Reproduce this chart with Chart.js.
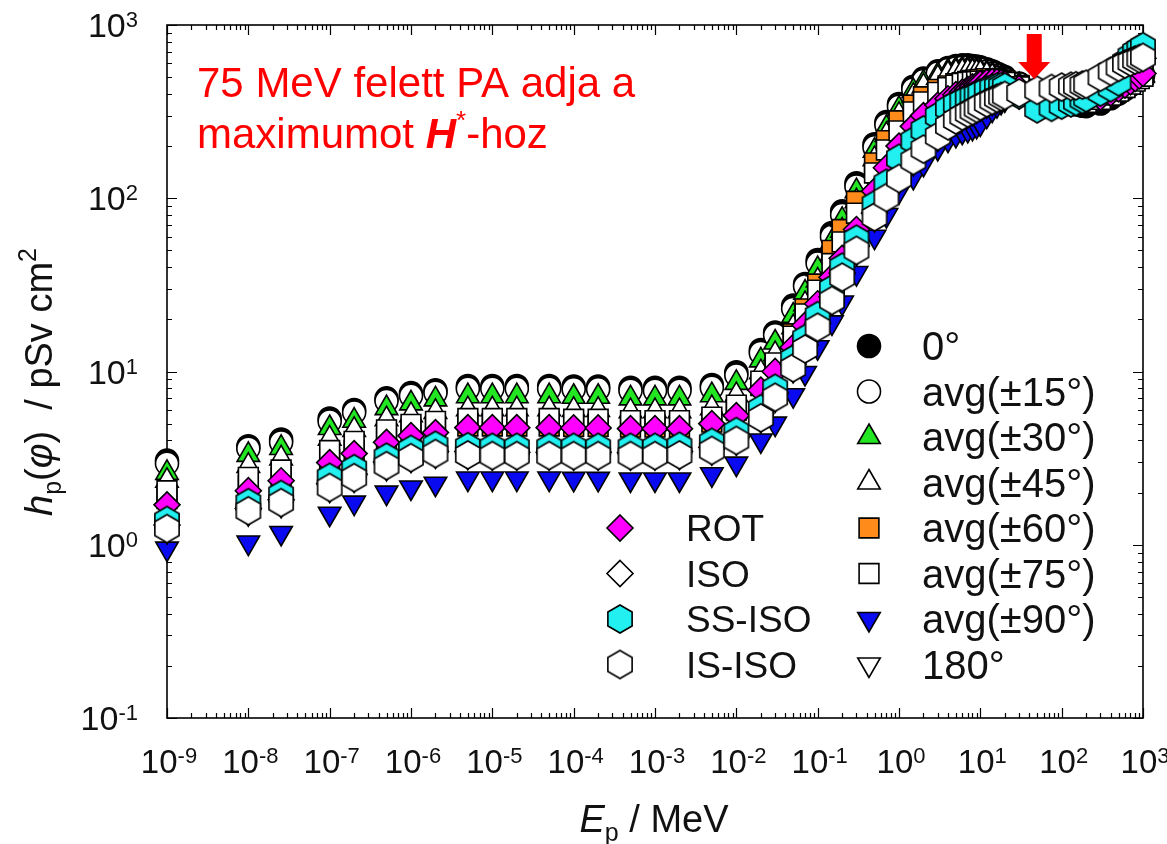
<!DOCTYPE html>
<html>
<head>
<meta charset="utf-8">
<title>hp(φ) neutron conversion coefficients</title>
<script src="https://cdn.jsdelivr.net/npm/chart.js@4.4.1/dist/chart.umd.min.js"></script>
<style>
  html, body { margin: 0; padding: 0; background: #fff; }
  #wrap { width: 1167px; height: 844px; position: relative; }
</style>
</head>
<body>
<div id="wrap"><canvas id="chart"></canvas></div>
<script>
// neutron energies, MeV
const energies = [
  1e-9, 1e-8, 2.53e-8, 1e-7, 2e-7, 5e-7, 1e-6, 2e-6, 5e-6, 1e-5, 2e-5, 5e-5, 1e-4, 2e-4, 5e-4, 1e-3, 2e-3, 5e-3,
  0.01, 0.02, 0.03, 0.05, 0.07, 0.1, 0.15, 0.2, 0.3, 0.5, 0.7,
  1, 1.5, 2, 3, 4, 5, 6, 7, 8, 9, 10,
  12, 14, 16, 18, 20,
  30, 50, 75, 100, 130, 150, 180, 200, 300, 400, 500, 600, 700, 800, 900, 1000
];

// hp(phi) in pSv cm2
const h0 = [
  3.06, 3.7, 4.05, 5.35, 6.0, 7.0, 7.5, 7.8, 8.25, 8.25, 8.25, 8.25, 8.2, 8.2, 8.05, 8.05, 8.05, 8.35,
  9.9, 13.3, 16.8, 24, 32, 44, 63, 84, 122, 205, 275,
  350, 440, 490, 540, 565, 580, 585, 585, 580, 575, 570,
  555, 540, 525, 510, 500,
  460, 420, 390, 370, 355, 348, 342, 340, 352, 378, 402, 425, 448, 470, 490, 510
];
const h15 = [
  2.94, 3.59, 3.9, 5.15, 5.8, 6.75, 7.25, 7.55, 7.95, 7.95, 7.95, 7.95, 7.9, 7.9, 7.75, 7.75, 7.75, 8.05,
  9.5, 12.8, 16.2, 23, 31, 42, 60, 80, 117, 197, 265,
  338, 425, 475, 525, 550, 562, 566, 566, 562, 557, 552,
  538, 524, 510, 497, 487,
  455, 418, 392, 376, 365, 360, 358, 358, 372, 395, 418, 440, 462, 482, 500, 518
];
const h30 = [
  2.6, 3.3, 3.62, 4.72, 5.2, 6.15, 6.55, 6.9, 7.2, 7.2, 7.2, 7.2, 7.15, 7.15, 7.0, 7.0, 7.0, 7.3,
  8.6, 11.6, 14.7, 21, 28.5, 39, 56, 75, 110, 188, 255,
  328, 415, 465, 515, 540, 552, 556, 556, 552, 547, 542,
  530, 516, 502, 490, 480,
  450, 415, 392, 378, 368, 364, 362, 362, 376, 398, 420, 442, 463, 482, 500, 516
];
const h45 = [
  2.34, 2.85, 3.15, 4.1, 4.6, 5.3, 5.6, 5.85, 6.05, 6.05, 6.05, 6.05, 6.0, 6.0, 5.9, 5.9, 5.9, 6.15,
  7.3, 9.9, 12.6, 18, 24.5, 33.5, 48, 65, 96, 168, 232,
  303, 390, 442, 495, 522, 535, 540, 540, 537, 533, 528,
  517, 505, 492, 480, 470,
  442, 410, 388, 375, 366, 362, 360, 360, 374, 395, 416, 437, 457, 475, 492, 508
];
const h60 = [
  1.85, 2.2, 2.45, 3.1, 3.5, 4.1, 4.45, 4.6, 4.85, 4.85, 4.85, 4.85, 4.82, 4.82, 4.78, 4.78, 4.78, 5.1,
  6.0, 8.3, 11, 16.5, 23, 32, 50, 66, 96, 160, 215,
  280, 345, 385, 425, 445, 458, 465, 472, 478, 482, 485,
  490, 490, 487, 482, 476,
  448, 415, 392, 380, 372, 368, 366, 366, 382, 404, 426, 448, 468, 487, 504, 520
];
const h75 = [
  2.05, 2.45, 2.7, 3.5, 3.95, 4.6, 4.95, 5.15, 5.35, 5.35, 5.35, 5.35, 5.3, 5.3, 5.2, 5.2, 5.2, 5.45,
  6.4, 8.8, 11.2, 16, 21.5, 29.5, 42, 56, 82, 140, 190,
  245, 315, 360, 408, 435, 450, 460, 466, 470, 472, 474,
  476, 476, 474, 470, 466,
  440, 408, 386, 372, 364, 360, 358, 358, 372, 394, 415, 436, 456, 474, 490, 506
];
const h90 = [
  0.95, 1.03, 1.17, 1.51, 1.75, 2.0, 2.14, 2.25, 2.41, 2.41, 2.41, 2.41, 2.4, 2.4, 2.38, 2.38, 2.38, 2.55,
  2.94, 4.0, 5.0, 7.3, 9.8, 13.8, 19.2, 25, 37, 60, 80,
  110, 133, 158, 195, 218, 232, 242, 248, 255, 262, 270,
  300, 325, 345, 360, 372,
  390, 405, 415, 425, 432, 436, 440, 445, 480, 515, 545, 570, 590, 605, 618, 628
];
const h180 = [
  1.2, 1.52, 1.7, 2.08, 2.38, 2.78, 3.1, 3.28, 3.22, 3.2, 3.2, 3.2, 3.2, 3.2, 3.2, 3.2, 3.22, 3.42,
  3.9, 5.25, 6.9, 10.2, 13.1, 17.5, 25, 34, 48.5, 76, 98,
  126, 160, 187, 222, 255, 276, 290, 302, 312, 322, 331,
  345, 357, 367, 375, 381,
  393, 408, 418, 425, 430, 433, 437, 442, 485, 524, 553, 577, 594, 609, 621, 631
];
const hROT = [
  1.7, 2.05, 2.34, 2.98, 3.36, 3.9, 4.26, 4.44, 4.74, 4.74, 4.74, 4.74, 4.72, 4.72, 4.68, 4.68, 4.68, 5.0,
  5.56, 7.8, 10, 13.8, 18.5, 24.6, 35, 45, 66, 110, 150,
  200, 260, 300, 345, 375, 396, 410, 425, 440, 450, 458,
  468, 472, 470, 465, 458,
  430, 400, 382, 372, 366, 364, 364, 365, 382, 405, 428, 450, 470, 490, 508, 525
];
const hISO = [
  1.3, 1.62, 1.82, 2.25, 2.55, 3.0, 3.3, 3.45, 3.45, 3.42, 3.42, 3.42, 3.42, 3.42, 3.4, 3.4, 3.45, 3.65,
  4.2, 5.7, 7.5, 11, 14.2, 19, 27, 37, 53, 82, 107,
  138, 172, 200, 238, 270, 290, 305, 316, 326, 335, 345,
  360, 372, 382, 390, 396,
  405, 412, 420, 428, 435, 440, 445, 450, 490, 530, 560, 585, 605, 620, 632, 642
];
const hSSISO = [
  1.38, 1.75, 1.95, 2.45, 2.75, 3.2, 3.55, 3.75, 3.68, 3.65, 3.65, 3.65, 3.65, 3.65, 3.65, 3.65, 3.7, 3.9,
  4.5, 6.1, 8.0, 11.8, 15.5, 21, 30, 40, 58, 92, 122,
  170, 215, 248, 298, 330, 350, 365, 378, 388, 395, 405,
  422, 432, 438, 440, 438,
  395, 328, 335, 345, 355, 362, 372, 380, 410, 435, 470, 610, 660, 700, 725, 750
];
const hISISO = [
  1.24, 1.57, 1.75, 2.14, 2.44, 2.86, 3.18, 3.36, 3.3, 3.27, 3.27, 3.27, 3.27, 3.27, 3.27, 3.27, 3.3, 3.5,
  4.0, 5.4, 7.1, 10.5, 13.5, 18, 25.7, 35, 50, 78, 101,
  130, 165, 192, 228, 262, 283, 298, 310, 320, 330, 340,
  355, 367, 378, 386, 392,
  405, 420, 430, 438, 443, 446, 450, 455, 500, 540, 570, 595, 612, 628, 640, 650
];

const seriesLabels = ['0°', 'avg(±15°)', 'avg(±30°)', 'avg(±45°)', 'avg(±60°)', 'avg(±75°)',
  'avg(±90°)', '180°', 'ROT', 'ISO', 'SS-ISO', 'IS-ISO'];
const seriesValues = [h0, h15, h30, h45, h60, h75, h90, h180, hROT, hISO, hSSISO, hISISO];

const xTickExponents = [-9, -8, -7, -6, -5, -4, -3, -2, -1, 0, 1, 2, 3];
const yTickExponents = [-1, 0, 1, 2, 3];

// legend columns (series indices)
const legendRight = [0, 1, 2, 3, 4, 5, 6, 7];
const legendLeft = [8, 9, 10, 11];

const arrowEnergy = 46;

const F = '"Liberation Sans", Arial, Helvetica, sans-serif';
const LW = 1.6;

function makeHexagon(fill, r) {
  const s = Math.ceil(r * 2 + 4);
  const c = document.createElement('canvas');
  c.width = s; c.height = s;
  const g = c.getContext('2d');
  g.beginPath();
  for (let k = 0; k < 6; k++) {
    const a = -Math.PI / 2 + k * Math.PI / 3;
    const px = s / 2 + r * Math.cos(a), py = s / 2 + r * Math.sin(a);
    if (k) g.lineTo(px, py); else g.moveTo(px, py);
  }
  g.closePath();
  g.fillStyle = fill;
  g.fill();
  g.lineWidth = LW;
  g.strokeStyle = '#000';
  g.stroke();
  return c;
}

const styles = [
  { style: 'circle', fill: '#000000', r: 11.5 },
  { style: 'circle', fill: '#ffffff', r: 11.5 },
  { style: 'triangle', fill: '#22e622', r: 13 },
  { style: 'triangle', fill: '#ffffff', r: 13 },
  { style: 'rect', fill: '#ff8c1a', r: 14 },
  { style: 'rect', fill: '#ffffff', r: 14 },
  { style: 'triangle', rot: 180, fill: '#0a0af0', r: 13 },
  { style: 'triangle', rot: 180, fill: '#ffffff', r: 13 },
  { style: 'rectRot', fill: '#ff00ff', r: 13 },
  { style: 'rectRot', fill: '#ffffff', r: 13 },
  { style: 'hex', fill: '#22f0f0', r: 14 },
  { style: 'hex', fill: '#ffffff', r: 14 }
];
styles.forEach(st => { if (st.style === 'hex') st.img = makeHexagon(st.fill, st.r); });

const datasets = seriesValues.map((vals, i) => {
  const st = styles[i];
  return {
    label: seriesLabels[i],
    data: energies.map((e, j) => ({ x: e, y: vals[j] })),
    pointStyle: st.img || st.style,
    pointRadius: st.r,
    pointHoverRadius: st.r,
    pointRotation: st.rot || 0,
    pointBackgroundColor: st.fill,
    pointBorderColor: '#000',
    pointBorderWidth: LW,
    pointHoverBorderWidth: LW,
    showLine: false,
    clip: false,
    // later series in the list sit on top
    order: seriesValues.length - 1 - i
  };
});

function drawMarker(ctx, st, x, y) {
  if (st.img) {
    ctx.drawImage(st.img, x - st.img.width / 2, y - st.img.height / 2);
    return;
  }
  const r = st.r;
  ctx.save();
  ctx.fillStyle = st.fill;
  ctx.strokeStyle = '#000';
  ctx.lineWidth = LW;
  ctx.beginPath();
  if (st.style === 'circle') {
    ctx.arc(x, y, r, 0, Math.PI * 2);
  } else if (st.style === 'triangle') {
    let a = (st.rot || 0) * Math.PI / 180;
    for (let k = 0; k < 3; k++) {
      const px = x + Math.sin(a) * r, py = y - Math.cos(a) * r;
      if (k) ctx.lineTo(px, py); else ctx.moveTo(px, py);
      a += 2 * Math.PI / 3;
    }
  } else if (st.style === 'rect') {
    const s = r * Math.SQRT1_2;
    ctx.rect(x - s, y - s, 2 * s, 2 * s);
  } else if (st.style === 'rectRot') {
    ctx.moveTo(x, y - r); ctx.lineTo(x + r, y); ctx.lineTo(x, y + r); ctx.lineTo(x - r, y);
  }
  ctx.closePath();
  ctx.fill();
  ctx.stroke();
  ctx.restore();
}

function richWidth(ctx, parts) {
  let w = 0;
  for (const p of parts) { ctx.font = p.font; w += ctx.measureText(p.t).width; }
  return w;
}

function drawRich(ctx, parts, x, y, align) {
  const w = richWidth(ctx, parts);
  let cx = align === 'center' ? x - w / 2 : align === 'right' ? x - w : x;
  ctx.textAlign = 'left';
  ctx.textBaseline = 'alphabetic';
  for (const p of parts) {
    ctx.font = p.font;
    ctx.fillText(p.t, cx, y + (p.dy || 0));
    cx += ctx.measureText(p.t).width;
  }
}

function powLabel(exp, base, small) {
  return [{ t: '10', font: base + 'px ' + F }, { t: String(exp), font: small + 'px ' + F, dy: -10 }];
}

const framePlugin = {
  id: 'frame',
  beforeDatasetsDraw(chart) {
    const { ctx, chartArea: a, scales } = chart;
    const xs = scales.x, ys = scales.y;
    ctx.save();
    ctx.strokeStyle = '#000';
    ctx.lineWidth = 1.2;
    ctx.beginPath();
    const xLast = xTickExponents[xTickExponents.length - 1];
    for (const d of xTickExponents) {
      for (let k = 1; k <= 9; k++) {
        if (d === xLast && k > 1) break;
        const px = Math.round(xs.getPixelForValue(k * Math.pow(10, d))) + 0.5;
        const len = k === 1 ? 10 : 5;
        ctx.moveTo(px, a.bottom); ctx.lineTo(px, a.bottom - len);
        ctx.moveTo(px, a.top); ctx.lineTo(px, a.top + len);
      }
    }
    const yLast = yTickExponents[yTickExponents.length - 1];
    for (const d of yTickExponents) {
      for (let k = 1; k <= 9; k++) {
        if (d === yLast && k > 1) break;
        const py = Math.round(ys.getPixelForValue(k * Math.pow(10, d))) + 0.5;
        const len = k === 1 ? 10 : 5;
        ctx.moveTo(a.left, py); ctx.lineTo(a.left + len, py);
        ctx.moveTo(a.right, py); ctx.lineTo(a.right - len, py);
      }
    }
    ctx.stroke();
    ctx.lineWidth = 1.6;
    ctx.strokeRect(a.left, a.top, a.right - a.left, a.bottom - a.top);
    ctx.restore();
  },
  afterDraw(chart) {
    const { ctx, chartArea: a, scales } = chart;
    const xs = scales.x, ys = scales.y;
    ctx.save();
    ctx.fillStyle = '#111';

    // tick labels
    for (const d of xTickExponents) {
      drawRich(ctx, powLabel(d, 33, 22), xs.getPixelForValue(Math.pow(10, d)) + 2, a.bottom + 55, 'center');
    }
    for (const d of yTickExponents) {
      drawRich(ctx, powLabel(d, 34, 22), a.left - 29, ys.getPixelForValue(Math.pow(10, d)) + 12, 'right');
    }

    // axis titles
    drawRich(ctx, [
      { t: 'E', font: 'italic 38px ' + F },
      { t: 'p', font: '25px ' + F, dy: 9 },
      { t: ' / MeV', font: '38px ' + F }
    ], 654, 832, 'center');

    ctx.save();
    ctx.translate(52, 382);
    ctx.rotate(-Math.PI / 2);
    drawRich(ctx, [
      { t: 'h', font: 'italic 38px ' + F },
      { t: 'p', font: '25px ' + F, dy: 9 },
      { t: '(', font: '38px ' + F },
      { t: 'φ', font: 'italic 38px ' + F },
      { t: ')  / pSv cm', font: '38px ' + F },
      { t: '2', font: '25px ' + F, dy: -16 }
    ], 0, 0, 'center');
    ctx.restore();

    // legend
    ctx.textAlign = 'left';
    ctx.textBaseline = 'alphabetic';
    legendRight.forEach((si, i) => {
      const yy = 346 + i * 45.5;
      drawMarker(ctx, styles[si], 869, yy);
      ctx.fillStyle = '#111';
      ctx.font = '40px ' + F;
      ctx.fillText(seriesLabels[si], 922, yy + 14);
    });
    legendLeft.forEach((si, i) => {
      const yy = 346 + (i + 4) * 45.5;
      drawMarker(ctx, styles[si], 620, yy);
      ctx.fillStyle = '#111';
      ctx.font = '37px ' + F;
      ctx.fillText(seriesLabels[si], 686, yy + 13);
    });

    // red annotation
    ctx.fillStyle = '#ff0000';
    drawRich(ctx, [{ t: '75 MeV felett PA adja a', font: '42px ' + F }], 197, 97, 'left');
    drawRich(ctx, [
      { t: 'maximumot ', font: '42px ' + F },
      { t: 'H', font: 'italic bold 42px ' + F },
      { t: '*', font: '26px ' + F, dy: -19 },
      { t: '-hoz', font: '42px ' + F }
    ], 197, 148, 'left');

    // arrow
    const ax = xs.getPixelForValue(arrowEnergy);
    ctx.beginPath();
    ctx.moveTo(ax - 7.5, 34);
    ctx.lineTo(ax + 7.5, 34);
    ctx.lineTo(ax + 7.5, 62);
    ctx.lineTo(ax + 16, 62);
    ctx.lineTo(ax, 79);
    ctx.lineTo(ax - 16, 62);
    ctx.lineTo(ax - 7.5, 62);
    ctx.closePath();
    ctx.fill();

    ctx.restore();
  }
};

new Chart(document.getElementById('chart'), {
  type: 'scatter',
  data: { datasets },
  options: {
    responsive: true,
    maintainAspectRatio: false,
    animation: false,
    events: [],
    layout: { padding: { left: 167, right: 24, top: 25, bottom: 126 } },
    plugins: { legend: { display: false }, tooltip: { enabled: false } },
    scales: {
      x: { type: 'logarithmic', min: 1e-9, max: 1e3, display: false },
      y: { type: 'logarithmic', min: 0.1, max: 1e3, display: false }
    }
  },
  plugins: [framePlugin]
});
</script>
</body>
</html>
